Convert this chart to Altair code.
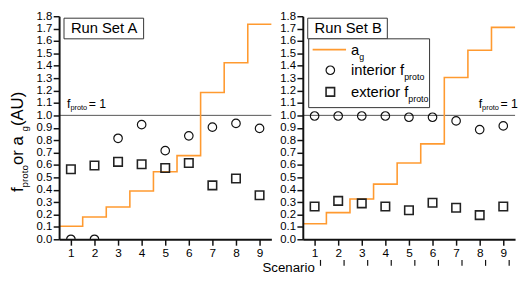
import altair as alt
import pandas as pd

# ---------------- data ----------------
scenarios = [1, 2, 3, 4, 5, 6, 7, 8, 9]
ag_A = [0.105, 0.18, 0.26, 0.39, 0.545, 0.675, 1.185, 1.425, 1.735]
int_A = [0.0, 0.0, 0.815, 0.925, 0.715, 0.835, 0.905, 0.935, 0.895]
ext_A = [0.565, 0.595, 0.625, 0.605, 0.575, 0.615, 0.435, 0.49, 0.355]
ag_B = [0.125, 0.215, 0.325, 0.445, 0.615, 0.77, 1.305, 1.525, 1.71]
int_B = [0.995, 0.995, 0.995, 0.995, 0.985, 0.985, 0.955, 0.885, 0.915]
ext_B = [0.265, 0.31, 0.29, 0.265, 0.235, 0.295, 0.255, 0.195, 0.265]
y_ticks = [round(i * 0.1, 1) for i in range(19)]
panel_titles = ["Run Set A", "Run Set B"]

# ---------------- style ----------------
W, H = 216, 227
FONT = "Liberation Sans"
ORANGE = "#FF9A30"
INK = "#111111"

AW = {'f': 278, 'p': 556, 'r': 333, 'o': 556, 't': 278, ' ': 278, 'a': 556,
      'g': 556, '(': 333, 'A': 667, 'U': 722, ')': 333, 'i': 222, 'n': 556,
      'e': 556, 'x': 500, '=': 584, '1': 556}


def tw(s, size):
    return sum(AW.get(c, 556) for c in s) * size / 1000.0


one = pd.DataFrame({"k": [0]})
xscale = alt.Scale(domain=[0.5, 9.5], nice=False, zero=False)
yscale = alt.Scale(domain=[0, 1.8], nice=False, zero=False)
xaxis = alt.Axis(values=scenarios, format="d", title=None, grid=False, zindex=1,
                 labelOverlap=False)
yaxis = alt.Axis(values=y_ticks, format=".1f", title=None, grid=False, zindex=1,
                 labelOverlap=False)


def XD(v):
    return alt.XDatum(v, type="quantitative", scale=xscale, axis=xaxis)


def YD(v):
    return alt.YDatum(v, type="quantitative", scale=yscale, axis=yaxis)


def txt(s, x, y, size, **kw):
    return alt.Chart(one).mark_text(text=s, font=FONT, fontSize=size, align="left",
                                    baseline="alphabetic", color="black", **kw).encode(
        x=x, y=y)


def sub_label(main, sub, x, y, msize, ssize, dsub, after=None, dx=0, dy=0):
    layers = [txt(main, x, y, msize, dx=dx, dy=dy)]
    off = tw(main, msize)
    layers.append(txt(sub, x, y, ssize, dx=dx + off, dy=dy + dsub))
    if after:
        off2 = off + tw(sub, ssize) + 1.5
        layers.append(txt(after, x, y, msize, dx=dx + off2, dy=dy))
    return layers


def steps(vals):
    xs = [s - 0.5 for s in scenarios] + [scenarios[-1] + 0.5]
    ys = list(vals) + [vals[-1]]
    return pd.DataFrame({"x": xs, "y": ys})


def panel(name, ag, iv, ev, left):
    pts = pd.DataFrame({"s": scenarios, "i": iv, "e": ev})
    line = alt.Chart(steps(ag)).mark_line(interpolate="step-after", color=ORANGE,
                                          strokeWidth=1.6).encode(
        x=alt.X("x:Q", scale=xscale, axis=xaxis),
        y=alt.Y("y:Q", scale=yscale, axis=yaxis))
    ref = alt.Chart(one).mark_rule(color="#555", strokeWidth=1).encode(y=YD(1.0))
    circ = alt.Chart(pts).mark_point(shape="circle", size=75, filled=False, color=INK,
                                     opacity=1, strokeWidth=1.2, clip=True).encode(
        x=alt.X("s:Q", scale=xscale, axis=xaxis), y=alt.Y("i:Q", scale=yscale, axis=yaxis))
    sq = alt.Chart(pts).mark_point(shape="square", size=75, filled=False, color="#222",
                                   opacity=1, strokeWidth=1.6, clip=True).encode(
        x=alt.X("s:Q", scale=xscale, axis=xaxis), y=alt.Y("e:Q", scale=yscale, axis=yaxis))
    box = alt.Chart(one).mark_rect(fill="white", stroke="#333", strokeWidth=1).encode(
        x=alt.value(5), x2=alt.value(86), y=alt.value(2), y2=alt.value(23))
    ttl = txt(name, alt.value(12), alt.value(17.5), 15)
    layers = [ref, line, circ, sq, box, ttl]

    if left:
        layers += sub_label("f", "proto", XD(0.5), YD(1.0), 12.5, 7.5, 2.7,
                            after="= 1", dx=8, dy=-8)
        # rotated y-axis title
        segs = [("f", 17, False), ("proto", 10, True), (" or a", 17, False), ("g", 10, True),
                (" (AU)", 17, False)]
        total = sum(tw(s, z) for s, z, _ in segs)
        y0 = 0.553 * H + total / 2
        cum = 0
        for s, z, is_sub in segs:
            layers.append(alt.Chart(one).mark_text(text=s, font=FONT, fontSize=z, align="left",
                                                   baseline="alphabetic", angle=270,
                                                   color="black").encode(
                x=alt.value(-32 if is_sub else -37), y=alt.value(y0 - cum)))
            cum += tw(s, z)
        layers.append(txt("Scenario", alt.value(W - 9), alt.value(H + 33), 13.5))
    else:
        layers += sub_label("f", "proto", XD(9.5), YD(1.0), 12.5, 7.5, 2.7,
                            after="= 1", dx=-37, dy=-8)
        # legend
        lbox = alt.Chart(one).mark_rect(fill="white", stroke="#333", strokeWidth=1).encode(
            x=alt.value(6), x2=alt.value(129), y=alt.value(23), y2=alt.value(93))
        lline = alt.Chart(one).mark_rule(color=ORANGE, strokeWidth=1.6).encode(
            x=alt.value(10), x2=alt.value(44), y=alt.value(34))
        lcirc = alt.Chart(one).mark_point(shape="circle", size=75, filled=False, color=INK,
                                          opacity=1, strokeWidth=1.2).encode(
            x=alt.value(28), y=alt.value(55))
        lsq = alt.Chart(one).mark_point(shape="square", size=75, filled=False, color="#222",
                                        opacity=1, strokeWidth=1.6).encode(
            x=alt.value(28), y=alt.value(77))
        layers += [lbox, lline, lcirc, lsq]
        layers += sub_label("a", "g", alt.value(49), alt.value(39), 15, 9, 6)
        layers += sub_label("interior f", "proto", alt.value(49), alt.value(60), 15, 9, 5)
        layers += sub_label("exterior f", "proto", alt.value(49), alt.value(82), 15, 9, 5)
        # small tick marks below the scenario labels
        art = pd.DataFrame({"xa": [s + 0.25 for s in scenarios]})
        layers.append(alt.Chart(art).mark_rule(color=INK, strokeWidth=1.2).encode(
            x=alt.X("xa:Q", scale=xscale, axis=xaxis), y=alt.value(H + 21), y2=alt.value(H + 27)))
    return alt.layer(*layers).properties(width=W, height=H)


left = panel(panel_titles[0], ag_A, int_A, ext_A, True)
right = panel(panel_titles[1], ag_B, int_B, ext_B, False)

chart = alt.hconcat(left, right, spacing=32, bounds="flush").properties(
    padding={"left": 0, "top": 0, "right": 0, "bottom": 0}
).configure_view(stroke=None).configure_axis(
    domainColor=INK, domainWidth=2, tickColor=INK, tickWidth=1.5, tickSize=6,
    labelFont=FONT, labelFontSize=12, labelColor="black", labelPadding=1.5
).configure_axisY(labelFontSize=11.5).configure_axisX(labelPadding=3)

chart.save("out.html", embed_options={"renderer": "svg", "actions": False})
